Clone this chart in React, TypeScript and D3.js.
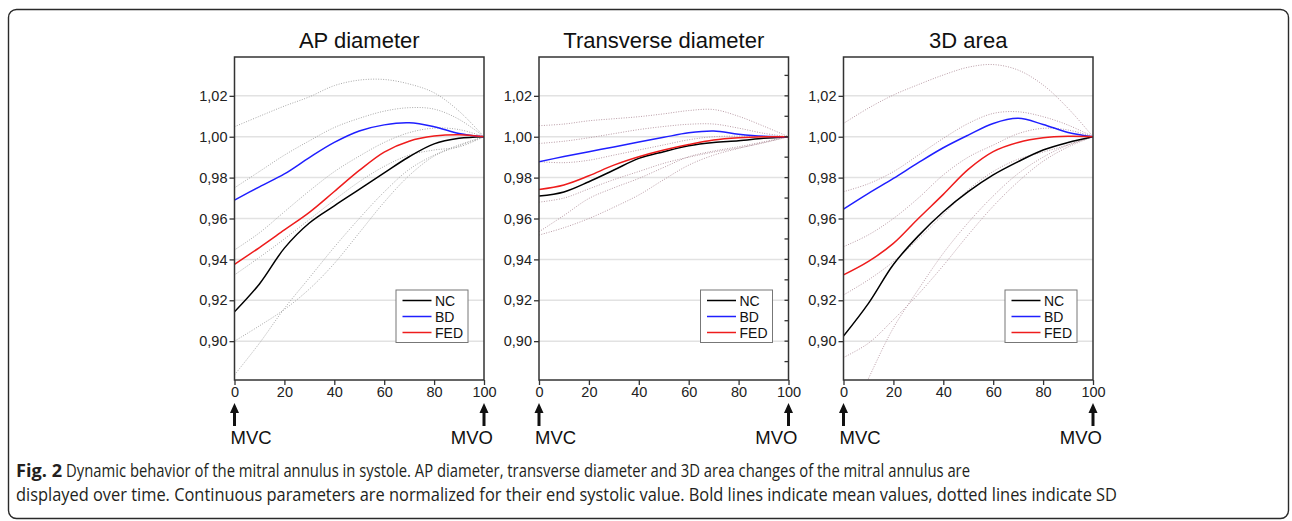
import * as d3 from 'd3'
import React, { useEffect, useRef } from 'react'

// time in % of systole
const timePct = [0, 10, 20, 30, 40, 50, 60, 70, 80, 90, 100]
const yTicks = [0.90, 0.92, 0.94, 0.96, 0.98, 1.00, 1.02]
const xTicks = [0, 20, 40, 60, 80, 100]
const groups = ['NC', 'BD', 'FED']
const titles = ['AP diameter', 'Transverse diameter', '3D area']

// AP diameter
const apNC = [0.9144, 0.9280, 0.9455, 0.9578, 0.9662, 0.9742, 0.9823, 0.9902, 0.9965, 0.9992, 1.0]
const apBD = [0.969, 0.9755, 0.9818, 0.9898, 0.9972, 1.0028, 1.0058, 1.0068, 1.0049, 1.0016, 1.0]
const apFED = [0.9376, 0.9458, 0.9544, 0.9630, 0.9732, 0.9835, 0.9925, 0.9978, 1.0003, 1.001, 1.0]
const apSD = [
  [1.0049, 1.010, 1.0150, 1.0195, 1.0250, 1.0277, 1.0280, 1.0258, 1.0215, 1.0125, 1.0],
  [0.975, 0.983, 0.991, 0.998, 1.0045, 1.009, 1.0125, 1.0142, 1.0135, 1.0085, 1.0],
  [0.9446, 0.953, 0.9633, 0.9735, 0.9829, 0.9905, 0.9972, 1.0020, 1.0042, 1.0035, 1.0],
  [0.9324, 0.941, 0.950, 0.9595, 0.969, 0.978, 0.9855, 0.991, 0.9935, 0.995, 1.0],
  [0.900, 0.9075, 0.9155, 0.9255, 0.938, 0.953, 0.968, 0.981, 0.9905, 0.9955, 1.0],
  [0.8835, 0.899, 0.916, 0.931, 0.946, 0.960, 0.973, 0.984, 0.991, 0.996, 1.0]
]

// transverse diameter
const trNC = [0.971, 0.973, 0.978, 0.9837, 0.9894, 0.9927, 0.9956, 0.9972, 0.998, 0.9992, 1.0]
const trBD = [0.9878, 0.9903, 0.9927, 0.995, 0.9974, 0.9997, 1.0019, 1.0028, 1.0012, 1.0002, 1.0]
const trFED = [0.9742, 0.9764, 0.9809, 0.9861, 0.9902, 0.9935, 0.9962, 0.9984, 0.9995, 1.0, 1.0]
const trSD = [
  [1.0054, 1.0062, 1.0078, 1.0088, 1.0098, 1.0112, 1.0128, 1.0133, 1.0100, 1.0052, 1.0],
  [0.9967, 0.9978, 0.9995, 1.0015, 1.0035, 1.0050, 1.0061, 1.0062, 1.0042, 1.0017, 1.0],
  [0.9878, 0.9873, 0.9885, 0.991, 0.9935, 0.996, 0.9985, 1.0, 1.0003, 1.0002, 1.0],
  [0.968, 0.970, 0.9745, 0.979, 0.983, 0.987, 0.990, 0.9925, 0.9945, 0.997, 1.0],
  [0.9535, 0.9615, 0.9698, 0.9750, 0.9796, 0.985, 0.9902, 0.993, 0.9951, 0.9975, 1.0],
  [0.9519, 0.9555, 0.960, 0.9655, 0.9715, 0.979, 0.9861, 0.991, 0.9943, 0.9972, 1.0]
]

// 3D area
const arNC = [0.9025, 0.9185, 0.9375, 0.9515, 0.9633, 0.9731, 0.9813, 0.9878, 0.9935, 0.9972, 1.0]
const arBD = [0.9646, 0.9723, 0.9796, 0.9873, 0.9946, 1.0008, 1.0065, 1.009, 1.006, 1.0021, 1.0]
const arFED = [0.9324, 0.939, 0.9478, 0.960, 0.9718, 0.9840, 0.9927, 0.9972, 0.9995, 1.0002, 1.0]
const arSD = [
  [1.0065, 1.0140, 1.0204, 1.0255, 1.0302, 1.0340, 1.0353, 1.0326, 1.0253, 1.0139, 1.0],
  [0.9731, 0.977, 0.9829, 0.991, 0.9992, 1.0065, 1.0114, 1.0122, 1.0098, 1.0057, 1.0],
  [0.9462, 0.952, 0.960, 0.970, 0.9813, 0.990, 0.9959, 1.0015, 1.0041, 1.0033, 1.0],
  [0.9226, 0.930, 0.9389, 0.950, 0.962, 0.974, 0.983, 0.989, 0.9925, 0.996, 1.0],
  [0.892, 0.899, 0.9105, 0.923, 0.937, 0.952, 0.966, 0.978, 0.988, 0.995, 1.0],
  [0.855, 0.8817, 0.9065, 0.9253, 0.943, 0.958, 0.971, 0.982, 0.990, 0.996, 1.0]
]

const panelMeans = [[apNC, apBD, apFED], [trNC, trBD, trFED], [arNC, arBD, arFED]]
const panelSD = [apSD, trSD, arSD]

const W = 1292
const H = 521
const lineColors = ['#000000', '#1f1fff', '#ee1c1c']
const sdColors = ['#a8a8a8', '#b99ca6', '#b99ca6']
const plotLefts = [234.5, 539, 843.5]
const plotW = 249.5
const plotTop = 57
const plotBottom = 380
const font = '"Liberation Sans", Arial, sans-serif'

const App = () => {
  const node = useRef(null)

  useEffect(() => {
    document.body.style.margin = '0'
    const svg = d3.select(node.current)
    svg.selectAll('*').remove()

    // outer figure frame
    svg.append('rect')
      .attr('x', 8.5).attr('y', 9.5).attr('width', 1280).attr('height', 509).attr('rx', 8)
      .attr('fill', 'none').attr('stroke', '#2a2a2a').attr('stroke-width', 1.4)

    const fmt = (v) => d3.format('.2f')(v).replace('.', ',')

    titles.forEach((title, p) => {
      const x = d3.scaleLinear().domain([0, 100]).range([plotLefts[p], plotLefts[p] + plotW])
      const y = d3.scaleLinear().domain([0.881, 1.039]).range([plotBottom, plotTop])
      const g = svg.append('g')

      g.append('defs').append('clipPath').attr('id', 'clip' + p)
        .append('rect').attr('x', x(0)).attr('y', plotTop).attr('width', plotW).attr('height', plotBottom - plotTop)

      // grid
      g.selectAll('line.grid').data(yTicks).enter().append('line')
        .attr('x1', x(0)).attr('x2', x(100))
        .attr('y1', d => y(d)).attr('y2', d => y(d))
        .attr('stroke', '#e2e2e2').attr('stroke-width', 1.5)

      const line = d3.line().x((d, i) => x(timePct[i])).y(d => y(d)).curve(d3.curveCatmullRom.alpha(0.5))
      const plot = g.append('g').attr('clip-path', `url(#clip${p})`)

      panelSD[p].forEach(sd => {
        plot.append('path').attr('d', line(sd)).attr('fill', 'none')
          .attr('stroke', sdColors[p]).attr('stroke-width', 1).attr('stroke-dasharray', '1,1.5')
      })
      panelMeans[p].forEach((m, i) => {
        plot.append('path').attr('d', line(m)).attr('fill', 'none')
          .attr('stroke', lineColors[i]).attr('stroke-width', 1.5)
      })

      // frame
      g.append('rect').attr('x', x(0)).attr('y', plotTop).attr('width', plotW).attr('height', plotBottom - plotTop)
        .attr('fill', 'none').attr('stroke', '#333').attr('stroke-width', 1.5)

      // y axis
      g.append('g').attr('transform', `translate(${x(0)},0)`)
        .call(d3.axisLeft(y).tickValues(yTicks).tickSize(5).tickSizeOuter(0).tickFormat(fmt))
        .call(a => a.select('.domain').remove())
        .call(a => a.selectAll('line').attr('stroke', '#333').attr('stroke-width', 1.3))
        .call(a => a.selectAll('text').attr('font-family', font).attr('font-size', 14.5).attr('fill', '#222').attr('x', -7))

      // x axis
      g.append('g').attr('transform', `translate(0,${plotBottom})`)
        .call(d3.axisBottom(x).tickValues(xTicks).tickSize(5).tickSizeOuter(0))
        .call(a => a.select('.domain').remove())
        .call(a => a.selectAll('line').attr('stroke', '#333').attr('stroke-width', 1.3))
        .call(a => a.selectAll('text').attr('font-family', font).attr('font-size', 14.5).attr('fill', '#222').attr('y', 7))

      // right minor ticks in the middle panel
      if (p === 1) {
        const minor = d3.range(0.89, 1.035, 0.01)
        g.selectAll('line.minor').data(minor).enter().append('line')
          .attr('x1', x(100) - 4).attr('x2', x(100))
          .attr('y1', d => y(d)).attr('y2', d => y(d))
          .attr('stroke', '#333').attr('stroke-width', 1.3)
      }

      // title
      g.append('text').attr('x', x(50)).attr('y', 48).attr('text-anchor', 'middle')
        .attr('font-family', font).attr('font-size', 22).attr('fill', '#111').text(title)

      // arrows + MVC / MVO
      ;[0, 100].forEach(t => {
        const cx = x(t)
        g.append('path')
          .attr('d', `M${cx - 1.5},426 L${cx - 1.5},413 L${cx - 4.5},413 L${cx},403 L${cx + 4.5},413 L${cx + 1.5},413 L${cx + 1.5},426 Z`)
          .attr('fill', '#111')
      })
      g.append('text').attr('x', x(0) - 4).attr('y', 444).attr('font-family', font).attr('font-size', 18.5)
        .attr('fill', '#111').text('MVC')
      g.append('text').attr('x', x(100) + 9).attr('y', 444).attr('text-anchor', 'end').attr('font-family', font)
        .attr('font-size', 18.5).attr('fill', '#111').text('MVO')

      // legend
      const lx = x(100) - 88
      const ly = 290
      const leg = g.append('g').attr('transform', `translate(${lx},${ly})`)
      leg.append('rect').attr('width', 72).attr('height', 52.5).attr('fill', '#fff')
        .attr('stroke', '#777').attr('stroke-width', 1)
      groups.forEach((name, i) => {
        leg.append('line').attr('x1', 6.5).attr('x2', 35.5).attr('y1', 10.5 + i * 16).attr('y2', 10.5 + i * 16)
          .attr('stroke', lineColors[i]).attr('stroke-width', 1.5)
        leg.append('text').attr('x', 39).attr('y', 15.5 + i * 16).attr('font-family', font).attr('font-size', 14)
          .attr('fill', '#111').text(name)
      })
    })

    // caption
    const capFont = '"Open Sans", "Noto Sans", sans-serif'
    svg.append('text').attr('x', 16).attr('y', 477).attr('font-family', capFont).attr('font-size', 17.5)
      .attr('font-weight', 'bold').attr('fill', '#231f20').attr('textLength', 46).attr('lengthAdjust', 'spacingAndGlyphs')
      .text('Fig. 2')
    svg.append('text').attr('x', 66).attr('y', 477).attr('font-family', capFont).attr('font-size', 17.5)
      .attr('fill', '#231f20').attr('textLength', 904).attr('lengthAdjust', 'spacingAndGlyphs')
      .text('Dynamic behavior of the mitral annulus in systole. AP diameter, transverse diameter and 3D area changes of the mitral annulus are')
    svg.append('text').attr('x', 16).attr('y', 501).attr('font-family', capFont).attr('font-size', 17.5)
      .attr('fill', '#231f20').attr('textLength', 1101).attr('lengthAdjust', 'spacingAndGlyphs')
      .text('displayed over time. Continuous parameters are normalized for their end systolic value. Bold lines indicate mean values, dotted lines indicate SD')
  }, [])

  return <svg ref={node} width={W} height={H} style={{ display: 'block', background: '#fff' }} />
}

export default App
